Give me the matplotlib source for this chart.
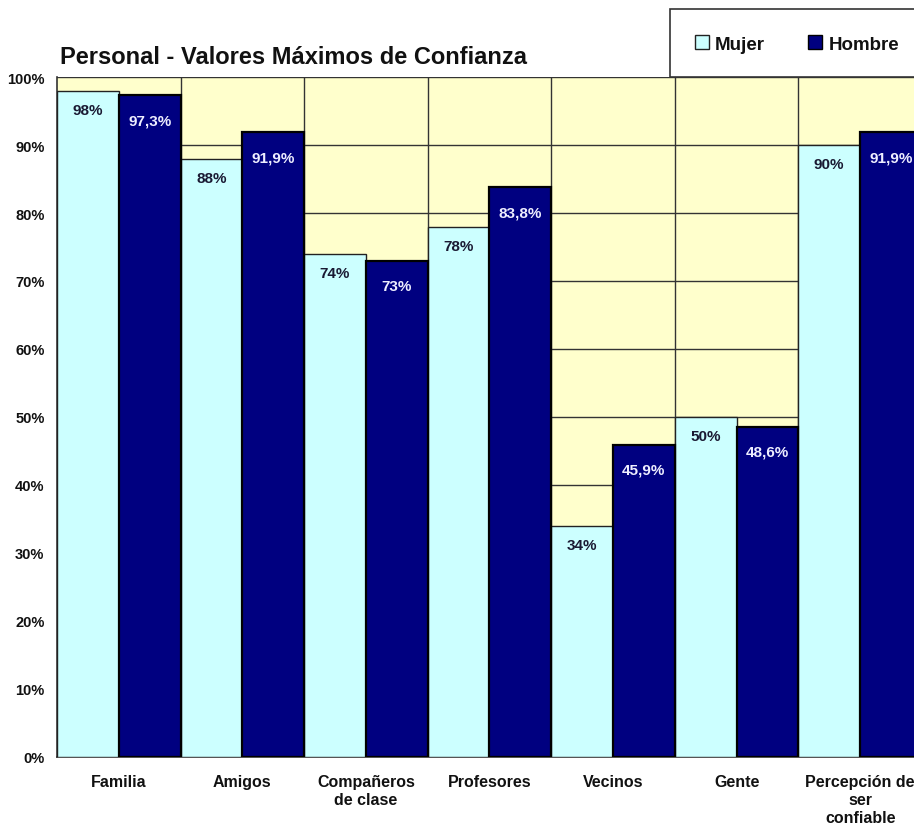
import matplotlib
matplotlib.use("Agg")
import matplotlib.pyplot as plt
import numpy as np
from matplotlib.patches import Rectangle, Patch

categories = ["Familia", "Amigos", "Compañeros\nde clase", "Profesores",
              "Vecinos", "Gente", "Percepción de\nser\nconfiable"]
mujer = [98, 88, 74, 78, 34, 50, 90]
hombre = [97.3, 91.9, 73, 83.8, 45.9, 48.6, 91.9]
series_names = ["Mujer", "Hombre"]
yticks = [0, 10, 20, 30, 40, 50, 60, 70, 80, 90, 100]
title = "Personal - Valores Máximos de Confianza"

plt.rcParams['font.family'] = ['Liberation Sans', 'DejaVu Sans']

fig = plt.figure(figsize=(9.14, 8.28), dpi=100)
ax = fig.add_axes([57/914, 1-758/828, 1-57/914+0.01, (758-78)/828])
ax.set_facecolor('#FFFFCC')

x = np.arange(len(categories))
w = 0.5
c_m = '#CCFFFF'
c_h = '#000080'

ax.bar(x - w/2, mujer, width=w, color=c_m, edgecolor='#222222', linewidth=1.0, zorder=3)
ax.bar(x + w/2, hombre, width=w, color=c_h, edgecolor='black', linewidth=1.6, zorder=3)

for xi, v in zip(x, mujer):
    ax.annotate(f"{v:g}%".replace('.', ','), (xi - w/2, v), xytext=(0, -14),
                textcoords='offset points', ha='center', va='center',
                fontsize=11, fontweight='bold', color='#1a1a33', zorder=4)
for xi, v in zip(x, hombre):
    ax.annotate(f"{v:g}%".replace('.', ','), (xi + w/2, v), xytext=(0, -18),
                textcoords='offset points', ha='center', va='center',
                fontsize=11, fontweight='bold', color='#EEEEFF', zorder=4)

ax.set_xlim(-0.5, len(categories) - 0.5 + 0.01)
ax.set_ylim(0, 100)
ax.set_yticks(yticks)
ax.set_yticklabels([f"{t}%" for t in yticks], fontsize=10.5, fontweight='bold', color='#111111')
ax.set_xticks(x)
ax.set_xticklabels(categories, fontsize=11.5, fontweight='bold', color='#111111', linespacing=1.25)
ax.tick_params(axis='x', length=0, pad=12)
ax.tick_params(axis='y', length=0, pad=9)

for t in yticks[1:]:
    ax.axhline(t, color='#333333', linewidth=1.0, zorder=1)
for b in np.arange(0.5, len(categories) - 0.5, 1):
    ax.axvline(b, color='#333333', linewidth=1.0, zorder=1)

for s in ['top', 'right']:
    ax.spines[s].set_visible(False)
ax.spines['left'].set_color('#333333')
ax.spines['bottom'].set_color('#333333')
ax.spines['left'].set_linewidth(1.2)
ax.spines['bottom'].set_linewidth(1.2)

fig.text(60/914, 1-58/828, title, fontsize=17, fontweight='bold', color='#111111',
         ha='left', va='center')

# legend box
fig.patches.append(Rectangle((670/914, 1-78/828), 260/914, 68/828,
                             transform=fig.transFigure, facecolor='white',
                             edgecolor='#333333', linewidth=1.2, zorder=0))
handles = [Patch(facecolor=c_m, edgecolor='#222222', linewidth=1.0),
           Patch(facecolor=c_h, edgecolor='black', linewidth=1.0)]
leg = fig.legend(handles, series_names, loc='center', bbox_to_anchor=(797/914, 1-45/828),
                 ncol=2, frameon=False, prop={'size': 13.5, 'weight': 'bold'},
                 handlelength=0.75, handleheight=0.75, handletextpad=0.35, columnspacing=2.3)
for t in leg.get_texts():
    t.set_color('#111111')

fig.savefig("out.png", dpi=100)
